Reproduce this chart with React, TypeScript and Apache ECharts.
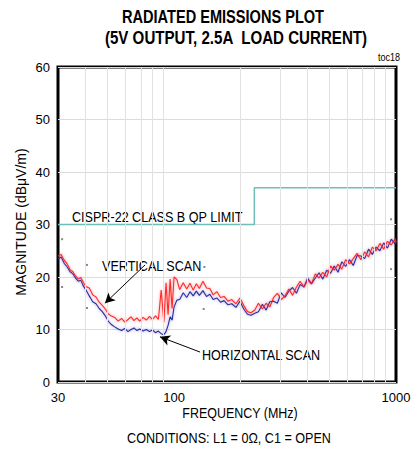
import React, { useEffect, useRef } from "react";
import * as echarts from "echarts";

// Frequencies (MHz) shared by both scans
const FREQ = [
  30, 31, 32, 33, 34, 35, 36, 37, 38, 39,
  40, 41.5, 43, 44.5, 46, 47.5, 49, 50.5, 52, 54,
  56, 58, 60, 62, 64, 66, 68, 70, 72.5, 75,
  77.5, 80, 82.5, 85, 87.5, 90, 92, 94, 96, 98,
  100, 103, 106, 110, 114, 118, 122, 126, 130, 135,
  140, 145, 150, 156, 162, 168, 175, 182, 190, 198,
  206, 214, 222, 231, 240, 250, 260, 270, 281, 292,
  304, 316, 329, 342, 356, 370, 385, 400, 416, 433,
  450, 468, 487, 507, 527, 548, 570, 593, 617, 642,
  668, 695, 723, 752, 782, 813, 846, 880, 915, 952,
  990, 1000,
];

// Vertical scan (red), dBuV/m
const VERTICAL = [
  24.0, 24.3, 23.2, 22.5, 21.4, 21.0, 20.2, 19.6, 19.9, 19.0,
  18.2, 17.9, 16.6, 16.2, 15.2, 14.6, 13.9, 13.0, 12.6, 12.3,
  11.6, 12.1, 11.4, 11.9, 12.4, 11.7, 12.2, 11.6, 12.3, 11.8,
  12.5, 11.9, 12.6, 11.9, 17.5, 11.4, 18.9, 12.8, 19.6, 14.0,
  20.0, 19.5, 17.6, 18.9, 17.7, 18.8, 17.5, 18.7, 17.8, 19.2,
  17.9, 17.8, 16.6, 17.2, 16.1, 16.3, 15.4, 15.7, 14.9, 16.0,
  14.6, 13.4, 13.2, 13.7, 15.0, 13.9, 15.0, 14.3, 16.1, 16.9,
  15.7, 16.4, 17.7, 16.5, 18.1, 19.2, 18.1, 19.4, 18.7, 20.6,
  19.8, 20.9, 20.0, 22.1, 21.3, 22.4, 21.5, 23.3, 22.5, 23.5,
  24.5, 23.3, 24.8, 23.8, 25.7, 25.0, 26.4, 25.3, 26.8, 26.1,
  27.3, 26.6,
];

// Horizontal scan (blue), dBuV/m
const HORIZONTAL = [
  23.4, 23.8, 22.6, 21.9, 21.0, 20.6, 19.8, 19.2, 19.4, 18.3,
  17.6, 16.4, 15.3, 14.9, 14.0, 13.4, 12.6, 11.6, 11.0, 10.5,
  10.1, 9.8, 10.2, 9.6, 10.0, 10.3, 9.8, 10.1, 9.7, 10.0,
  9.6, 9.9, 9.4, 9.7, 9.2, 9.0, 9.6, 10.8, 12.4, 11.8,
  14.3, 15.6, 15.7, 17.0, 16.1, 17.2, 16.4, 17.3, 16.5, 17.4,
  16.3, 16.7, 15.7, 16.0, 15.2, 15.5, 14.7, 14.9, 14.2, 15.4,
  13.9, 12.9, 12.7, 13.1, 13.4, 14.8, 13.7, 15.3, 15.4, 15.0,
  17.0, 16.1, 17.3, 18.0, 16.9, 18.6, 18.1, 19.8, 18.7, 19.8,
  20.8, 19.6, 21.3, 20.7, 22.1, 20.9, 22.9, 22.0, 23.3, 22.2,
  24.1, 24.0, 23.5, 25.3, 24.3, 25.7, 25.0, 26.5, 25.5, 27.2,
  26.3, 26.9,
];

// CISPR-22 class B QP limit
const LIMIT_FREQ = [30, 230, 230, 1000];
const LIMIT_LEVEL = [30, 30, 37, 37];

// Stray marker dots
const MARK_FREQ = [31.3, 40.5, 31.3, 40.5, 137, 136, 950, 950];
const MARK_LEVEL = [27.2, 22.3, 18.1, 14.1, 21.9, 13.9, 31.0, 21.5];

const X_LABELS = [30, 100, 1000];
const X_GRID = [40, 50, 60, 70, 80, 90, 200, 300, 400, 500, 600, 700, 800, 900];
const Y_MIN = 0;
const Y_MAX = 60;
const Y_STEP = 10;

// Arrow annotations: [fromFreq, fromLevel, toFreq, toLevel]
const ARROW_VERTICAL = [74, 22.3, 48.8, 15.0];
const ARROW_HORIZONTAL = [131, 5.7, 86.4, 8.6];

const FONT = "'Liberation Sans', Arial, sans-serif";
const L = (f: number) => Math.log10(f);

export default function App() {
  const ref = useRef<HTMLDivElement>(null);
  useEffect(() => {
    if (!ref.current) return;
    const chart = echarts.init(ref.current, null, { renderer: "svg" });
    const pair = (fs: number[], vs: number[]) => fs.map((f, i) => [L(f), vs[i]]);
    const arrow = (a: number[]) => [
      { coord: [L(a[0]), a[1]] },
      { coord: [L(a[2]), a[3]] },
    ];
    const txt = (
      text: string,
      x: number,
      y: number,
      size: number,
      align: string,
      sx: number,
      bold = false
    ) => ({
      type: "text",
      x,
      y,
      scaleX: sx,
      style: {
        text,
        font: `${bold ? "bold " : ""}${size}px ${FONT}`,
        fill: "#000",
        align,
        verticalAlign: "middle",
      },
    });
    chart.setOption({
      animation: false,
      grid: {
        left: 58,
        right: 21,
        top: 67,
        bottom: 68,
        show: true,
        borderColor: "#000",
        borderWidth: 3,
        backgroundColor: "transparent",
      },
      xAxis: {
        type: "value",
        min: L(30),
        max: 3,
        axisLine: { show: false },
        axisTick: { show: false },
        splitLine: { show: false },
        axisLabel: {
          customValues: X_LABELS.map(L),
          formatter: (v: number) => String(Math.round(Math.pow(10, v))),
          color: "#000",
          fontSize: 13,
          fontFamily: FONT,
          margin: 9,
        },
      },
      yAxis: {
        type: "value",
        min: Y_MIN,
        max: Y_MAX,
        interval: Y_STEP,
        axisLine: { show: false },
        axisTick: { show: false },
        splitLine: { show: true, lineStyle: { color: "#dcdcdc", width: 1 } },
        axisLabel: { color: "#000", fontSize: 13, fontFamily: FONT, margin: 8 },
      },
      series: [
        {
          type: "line",
          data: [],
          silent: true,
          markLine: {
            silent: true,
            symbol: ["none", "none"],
            label: { show: false },
            lineStyle: { color: "#e2e2e2", width: 1, type: "solid" },
            data: X_GRID.map((f) => ({ xAxis: L(f) })),
          },
        },
        {
          name: "limit",
          type: "line",
          data: pair(LIMIT_FREQ, LIMIT_LEVEL),
          symbol: "none",
          lineStyle: { color: "#6fbdb7", width: 1.5 },
        },
        {
          name: "horizontal",
          type: "line",
          data: pair(FREQ, HORIZONTAL),
          symbol: "none",
          lineStyle: {
            color: "#2c2c9e",
            width: 1.1,
            shadowColor: "rgba(60,60,200,0.55)",
            shadowBlur: 3,
          },
        },
        {
          name: "vertical",
          type: "line",
          data: pair(FREQ, VERTICAL),
          symbol: "none",
          lineStyle: {
            color: "#ff1a1a",
            width: 1.1,
            opacity: 0.92,
            shadowColor: "rgba(255,60,60,0.6)",
            shadowBlur: 3,
          },
        },
        {
          name: "marks",
          type: "scatter",
          data: pair(MARK_FREQ, MARK_LEVEL),
          symbol: "rect",
          symbolSize: 2,
          itemStyle: { color: "#666" },
        },
        {
          type: "line",
          data: [],
          silent: true,
          markLine: {
            silent: true,
            symbol: ["none", "arrow"],
            symbolSize: [8, 10],
            label: { show: false },
            lineStyle: { color: "#000", width: 1, type: "solid" },
            data: [arrow(ARROW_VERTICAL), arrow(ARROW_HORIZONTAL)],
          },
        },
      ],
      graphic: [
        txt("RADIATED EMISSIONS PLOT", 223, 16, 18, "center", 0.81, true),
        txt("(5V OUTPUT, 2.5A  LOAD CURRENT)", 236, 38, 18, "center", 0.84, true),
        txt("toc18", 400, 57, 10, "right", 0.9),
        {
          type: "text",
          x: 21,
          y: 222,
          rotation: Math.PI / 2,
          style: {
            text: "MAGNITUDE (dBμV/m)",
            font: `14px ${FONT}`,
            fill: "#000",
            align: "center",
            verticalAlign: "middle",
          },
        },
        txt("CISPR-22 CLASS B QP LIMIT", 72, 217, 14, "left", 0.9),
        txt("VERTICAL SCAN", 102, 266, 14, "left", 0.9),
        txt("HORIZONTAL SCAN", 202, 355, 14, "left", 0.9),
        txt("FREQUENCY (MHz)", 240, 413, 14, "center", 0.89),
        txt("CONDITIONS: L1 = 0Ω, C1 = OPEN", 229, 438, 14, "center", 0.9),
      ],
    });
    return () => chart.dispose();
  }, []);
  return <div ref={ref} style={{ width: 417, height: 450, position: "absolute", left: 0, top: 0 }} />;
}
